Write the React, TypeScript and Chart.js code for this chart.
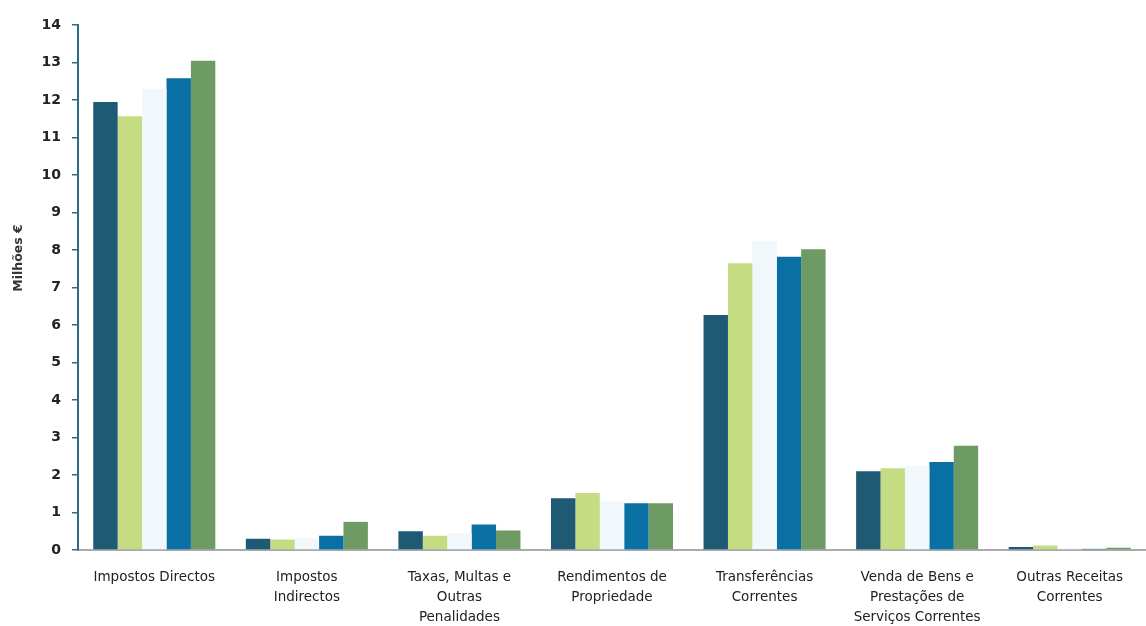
import React, { useEffect, useRef } from "react";
import { Chart, registerables } from "chart.js";

Chart.register(...registerables);

const categories: string[][] = [
  ["Impostos Directos"],
  ["Impostos", "Indirectos"],
  ["Taxas, Multas e", "Outras", "Penalidades"],
  ["Rendimentos de", "Propriedade"],
  ["Transferências", "Correntes"],
  ["Venda de Bens e", "Prestações de", "Serviços Correntes"],
  ["Outras Receitas", "Correntes"],
];

const seriesA = [11.95, 0.3, 0.5, 1.38, 6.27, 2.1, 0.08];
const seriesB = [11.57, 0.28, 0.38, 1.52, 7.65, 2.18, 0.12];
const seriesC = [12.3, 0.32, 0.45, 1.3, 8.25, 2.25, 0.05];
const seriesD = [12.58, 0.38, 0.68, 1.25, 7.82, 2.35, 0.03];
const seriesE = [13.05, 0.75, 0.52, 1.25, 8.02, 2.78, 0.06];

const seriesColors = ["#1f5a74", "#c6dc82", "#f1f7fb", "#0a6fa3", "#6e9a63"];
const yTicks = [0, 1, 2, 3, 4, 5, 6, 7, 8, 9, 10, 11, 12, 13, 14];
const yTitle = "Milhões €";

// Rotated y-axis caption, placed a little above the axis midpoint
const yTitlePlugin = {
  id: "yTitle",
  afterDraw(chart: any) {
    const c = chart.ctx;
    c.save();
    c.translate(19, 258);
    c.rotate(-Math.PI / 2);
    c.font = "bold 12.5px 'DejaVu Sans'";
    c.fillStyle = "#333";
    c.textAlign = "center";
    c.textBaseline = "middle";
    c.fillText(yTitle, 0, 0);
    c.restore();
  },
};

export default function App() {
  const ref = useRef<HTMLCanvasElement | null>(null);

  useEffect(() => {
    document.body.style.margin = "0";
    const ctx = ref.current;
    if (!ctx) return;
    const data = [seriesA, seriesB, seriesC, seriesD, seriesE];
    const chart = new Chart(ctx, {
      type: "bar",
      data: {
        labels: categories,
        datasets: data.map((d, i) => ({
          label: `S${i + 1}`,
          data: d,
          backgroundColor: seriesColors[i],
          borderWidth: 0,
          categoryPercentage: 0.8,
          barPercentage: 1.0,
        })),
      },
      options: {
        animation: false,
        responsive: false,
        maintainAspectRatio: false,
        layout: { padding: { top: 25, right: 0, left: 0, bottom: 0 } },
        plugins: {
          legend: { display: false },
          tooltip: { enabled: false },
        },
        scales: {
          x: {
            grid: { display: false, drawTicks: false },
            border: { display: true, color: "#a9a9b0", width: 2 },
            ticks: {
              color: "#222",
              font: { family: "DejaVu Sans", size: 13.5, lineHeight: 1.5 },
              padding: 17,
              maxRotation: 0,
              autoSkip: false,
            },
            afterFit: (s: any) => {
              s.height = 76;
            },
          },
          y: {
            min: 0,
            max: 14,
            afterBuildTicks: (s: any) => {
              s.ticks = yTicks.map((v) => ({ value: v }));
            },
            grid: {
              display: true,
              drawOnChartArea: false,
              drawTicks: true,
              tickLength: 6,
              color: "#2f6a86",
              lineWidth: 1.5,
            },
            border: { display: true, color: "#2f6a86", width: 2 },
            ticks: {
              color: "#222",
              font: { family: "DejaVu Sans", size: 14, weight: "bold" },
              padding: 11,
            },
            afterFit: (s: any) => {
              s.width = 78;
            },
          },
        },
      },
      plugins: [yTitlePlugin],
    });
    return () => chart.destroy();
  }, []);

  return (
    <div style={{ width: 1146, height: 626, background: "#fff" }}>
      <canvas ref={ref} width={1146} height={626} style={{ display: "block" }} />
    </div>
  );
}
